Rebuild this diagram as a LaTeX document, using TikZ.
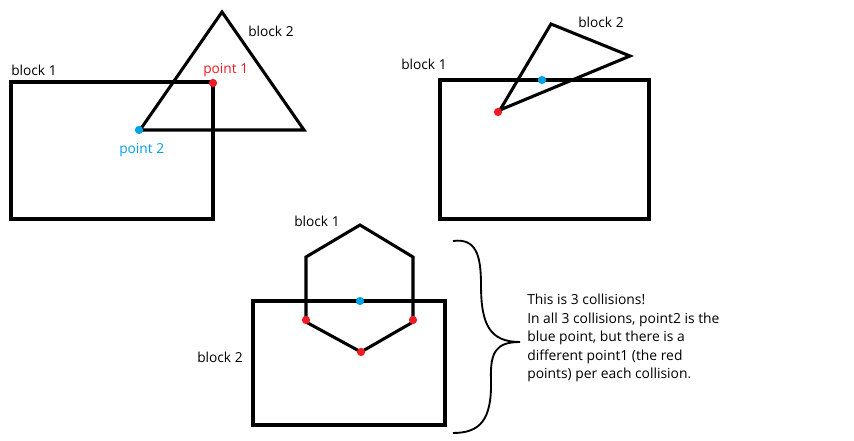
\documentclass[tikz,border=0pt]{standalone}
\usepackage{fontspec}
\setmainfont{Open Sans}
\definecolor{pred}{RGB}{237,28,36}
\definecolor{pblue}{RGB}{0,162,232}
\begin{document}
\begin{tikzpicture}[x=0.75pt,y=-0.75pt,
  shape line/.style={line width=2.3pt,line join=miter},
  lbl/.style={anchor=base west,inner sep=0pt,font=\fontsize{10.3}{12}\selectfont},
  reddot/.style={circle,fill=pred,inner sep=0pt,minimum size=6.2pt},
  bluedot/.style={circle,fill=pblue,inner sep=0pt,minimum size=6.2pt}]
\useasboundingbox (0,0) rectangle (854,441);
\fill[white] (0,0) rectangle (854,441);
% ---------- panel 1 ----------
\coordinate (r1a) at (11,82); \coordinate (r1b) at (213,219);
\draw[shape line] (r1a) rectangle (r1b);
\coordinate (t1a) at (222,12); \coordinate (t1b) at (304,130); \coordinate (t1c) at (140,130);
\draw[shape line] (t1a) -- (t1b) -- (t1c) -- cycle;
\node[reddot] (p1red) at (213,83) {};
\node[bluedot] (p1blue) at (139,130) {};
\node[lbl] (p1b1) at (11,76) {block 1};
\node[lbl] (p1b2) at (248,37) {block 2};
\node[lbl,text=pred] (p1pt1) at (203,74) {point 1};
\node[lbl,text=pblue] (p1pt2) at (119,154) {point 2};
% ---------- panel 2 ----------
\coordinate (r2a) at (440,80); \coordinate (r2b) at (649,219);
\draw[shape line] (r2a) rectangle (r2b);
\coordinate (t2a) at (551,24); \coordinate (t2b) at (630,56); \coordinate (t2c) at (500,110);
\draw[shape line] (t2a) -- (t2b) -- (t2c) -- cycle;
\node[reddot] (p2red) at (498,112) {};
\node[bluedot] (p2blue) at (542,80) {};
\node[lbl] (p2b2) at (578,28) {block 2};
\node[lbl] (p2b1) at (401,70) {block 1};
% ---------- panel 3 ----------
\coordinate (h1) at (360,225); \coordinate (h2) at (413,257); \coordinate (h3) at (413,322);
\coordinate (h4) at (361,352); \coordinate (h5) at (306,322); \coordinate (h6) at (306,257);
\draw[shape line] (h1) -- (h2) -- (h3) -- (h4) -- (h5) -- (h6) -- cycle;
\coordinate (r3a) at (253,301); \coordinate (r3b) at (445,425);
\draw[shape line] (r3a) rectangle (r3b);
\node[bluedot] (p3blue) at (360,301) {};
\node[reddot] (p3redl) at (306,320) {};
\node[reddot] (p3redr) at (413,320) {};
\node[reddot] (p3redb) at (361,352) {};
\node[lbl] (p3b1) at (294,227) {block 1};
\node[lbl] (p3b2) at (197,363) {block 2};
% brace
\coordinate (bt) at (453,241); \coordinate (bm) at (520,342); \coordinate (bb) at (453,433);
\draw[line width=1.4pt] (bt) .. controls (476,238) and (481,255) .. (481,285)
  .. controls (481,325) and (490,342) .. (bm)
  .. controls (496,342) and (490,352) .. (491,380)
  .. controls (492,420) and (480,433) .. (bb);
\node[anchor=north west,inner sep=0pt,align=left,font=\fontsize{10.4}{13.9}\selectfont] (note) at (527,294)
 {This is 3 collisions!\\In all 3 collisions, point2 is the\\blue point, but there is a\\different point1 (the red\\points) per each collision.};
\end{tikzpicture}
\end{document}
